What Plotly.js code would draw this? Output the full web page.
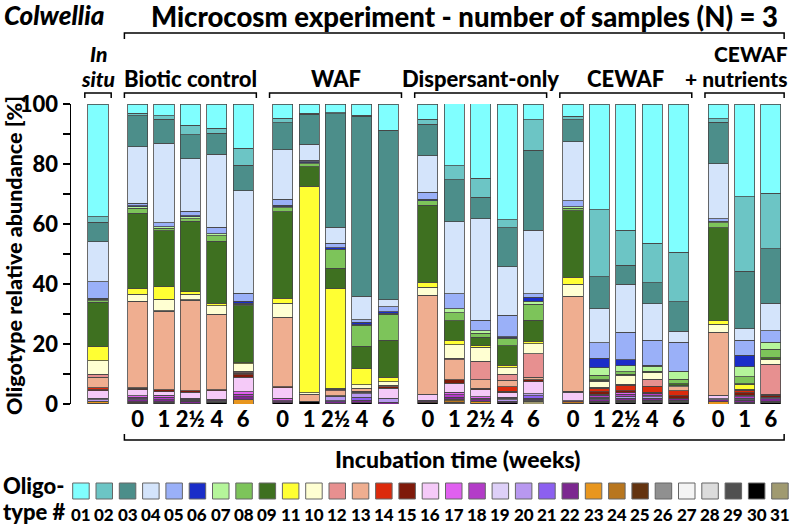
<!DOCTYPE html>
<html><head><meta charset="utf-8">
<script src="https://cdn.plot.ly/plotly-3.0.1.min.js"></script>
<style>html,body{margin:0;padding:0;background:#fff}#chart{width:796px;height:526px}</style>
</head><body><div id="chart"></div>
<script>
// Oligotypes in legend order (top of stack -> bottom)
const oligotypes = ["01","02","03","04","05","06","07","08","09","11","10","12","13","14","15","16","17","18","19","20","21","22","23","24","25","26","27","28","29","30","31"];
const oligoColors = ["#80FFFF","#6CC5C5","#4C8E8A","#D4E4FB","#9AB0F8","#1A2DC8","#B5F59A","#7DC45A","#3E7020","#FFFF33","#FFFFD2","#E79090","#EFAE90","#DC2A0C","#7F1A0A","#F5CAF8","#E060F0","#B33CC8","#DED0F8","#B898F0","#8C60F0","#7C2890","#E8961E","#B8761E","#643410","#909090","#F4F4F4","#DCDCDC","#505050","#000000","#A09A70"];

// Groups and their sample tick labels (weeks)
const groupNames = ["In situ","Biotic control","WAF","Dispersant-only","CEWAF","CEWAF + nutrients"];
const groupWeeks = [[""],["0","1","2½","4","6"],["0","1","2½","4","6"],["0","1","2½","4","6"],["0","1","2½","4","6"],["0","1","6"]];

// Relative abundance [%] per sample, values in oligotype legend order
const inSitu = [37.6,1.8,6.5,13.4,5.5,0.2,0.5,0.6,14.8,4.7,4.5,0.9,3.6,0.7,0.3,2.5,0,0,0.4,0.5,0,0,0.8,0,0,0,0,0,0,0,0.2];
const bc0  = [3.1,0.8,10.3,18.9,0.8,0.3,0.5,1.7,25.1,1.9,2.3,0.2,28.6,0.2,0.6,2.0,0.4,0.5,0,0.4,0,0.6,0,0,0.3,0,0,0,0.2,0.3,0];
const bc1  = [3.9,1.2,8.0,26.5,1.3,0,0.5,0.9,18.6,4.2,3.8,0.2,26.2,0,0.6,1.1,0.8,0.7,0,0,0,0.7,0,0,0,0,0,0,0.4,0.3,0.1];
const bc2h = [7.0,3.3,7.9,17.5,1.6,0.2,0.7,0.8,23.6,0.8,1.8,0.2,30.2,0,0.5,1.9,0.4,0.3,0,0.4,0,0.6,0,0,0,0,0,0,0,0.3,0];
const bc4  = [8.1,1.7,7.0,24.3,2.2,0,0.6,1.8,20.7,0.8,2.9,0.2,25.0,0,0.3,2.8,0,0,0,0.2,0,0.3,0,0,0,0,0,0,0.5,0.6,0];
const bc6  = [14.8,5.6,8.5,34.2,2.6,0.7,0.4,0.5,18.9,0.3,2.5,0.5,0.3,0.5,0.8,4.8,0.9,0.8,0,0,0,0.9,1.5,0,0,0,0,0,0,0,0];
const waf0  = [4.8,1.4,9.1,16.5,1.9,0.5,0.4,1.3,28.9,1.6,4.7,0,23.1,0,0.4,3.5,0.8,0.4,0,0,0,0.3,0,0,0,0,0,0,0,0.4,0];
const waf1  = [3.1,0.3,10.0,5.3,0.5,0.3,0.4,1.0,6.5,68.8,0.6,0,2.2,0,0,0,0,0,0,0,0,0,0,0,0,0,0,0,0,1.0,0];
const waf2h = [2.9,0.3,37.9,5.3,1.5,0.5,0,6.4,6.7,33.2,0.3,0.5,1.7,0,0,0.2,0,0,0,1.5,0.4,0.4,0,0,0,0,0,0,0,0.3,0];
const waf4  = [3.7,0.3,60.1,7.8,0.9,0.8,0.2,7.0,7.5,5.3,1.1,0,1.0,0,0.4,0.5,0,0,0,1.2,1.0,0.8,0,0,0,0,0,0,0,0.4,0];
const waf6  = [8.7,0.2,56.3,2.4,1.6,0.6,0.3,8.6,12.4,1.5,1.2,0,0.5,0,0.4,3.3,0,0,0,1.4,0,0.6,0,0,0,0,0,0,0,0,0];
const dis0  = [5.1,1.7,10.4,12.2,2.4,0.4,0,1.5,25.7,1.7,2.6,0.2,32.9,0,0,1.9,0,0,0,0,0,0.5,0,0,0.4,0,0,0,0,0.4,0];
const dis1  = [20.7,4.6,14.1,24.0,4.9,0,1.3,2.7,6.6,1.4,4.5,0.6,6.6,0,1.1,3.0,0.9,0.8,0,0,0,0.7,0.5,0.5,0,0,0,0,0.6,0,0];
const dis2h = [24.8,6.3,7.3,33.8,3.4,0,0.9,1.3,2.9,0.5,4.7,6.1,2.8,0,0.6,2.2,0.6,0.5,0,0,0,0.5,0.6,0,0,0,0,0,0.3,0,0];
const dis4  = [38.5,2.8,13.0,16.1,7.2,0.3,0.2,2.4,6.5,0.9,2.1,2.0,2.3,1.4,0.5,1.6,0,0.3,0.4,0.6,0,0.5,0,0,0,0,0,0,0,0.4,0];
const dis6  = [5.1,10.2,26.7,21.1,1.2,1.3,1.1,5.3,6.9,0.9,3.3,7.8,0.9,0,0.6,4.1,0,0,0,0.6,0.8,0.5,0,0,0,0,0,0,0.6,0,0.9];
const cew0  = [4.0,1.3,7.3,19.7,1.9,0,0.5,0.9,22.2,2.3,3.9,0,31.7,0,0.4,2.8,0,0,0,0,0,0.3,0,0.5,0,0,0,0,0,0.3,0];
const cew1  = [35.3,22.3,10.7,11.3,5.2,3.1,2.5,1.5,0.3,0.2,2.0,0,0.3,1.2,0.8,0,0.4,0.6,0.3,0.6,0,0.5,0,0,0,0,0,0,0.4,0.5,0];
const cew2h = [42.0,11.7,6.4,16.0,9.2,2.0,2.0,0.7,0.4,0,3.0,0.4,0,1.8,0.6,0,0.6,0.6,0,0.6,0,0.8,0.3,0,0,0,0,0,0.5,0.4,0];
const cew4  = [46.4,13.1,7.0,12.2,8.3,0.4,1.6,0.3,0.3,0,2.2,2.3,0,2.0,0.5,0,0,0.6,0.3,0.5,0,0.7,0,0,0,0,0,0,0.8,0.5,0];
const cew6  = [49.4,16.5,9.8,3.7,9.6,0.3,2.5,1.5,0.6,0,0.4,0,1.2,1.8,1.0,0,0,0,0,0,0,0.5,0,0,0,0,0,0,0.6,0.6,0];
const cen0  = [4.8,1.1,13.9,18.3,0.8,0,0.5,1.8,31.0,1.1,2.6,0,21.1,0,0,1.1,0,0,0.4,0,0,0.6,0.8,0,0,0,0,0,0,0,0];
const cen1  = [30.9,24.8,19.2,3.8,5.1,3.8,3.3,2.3,0.3,1.6,0,0.3,0,0.8,0.8,0,0.5,0.5,0,0.5,0.3,0.6,0,0,0,0,0,0,0.3,0.3,0];
const cen6  = [29.8,18.5,18.1,9.2,3.8,0,2.4,2.8,0.5,0,1.7,9.9,0,0.3,0.7,0,0,0,0,0.6,0,0.8,0,0,0,0,0,0,0.5,0.4,0];

const samples = [inSitu, bc0,bc1,bc2h,bc4,bc6, waf0,waf1,waf2h,waf4,waf6, dis0,dis1,dis2h,dis4,dis6, cew0,cew1,cew2h,cew4,cew6, cen0,cen1,cen6];

// ---- layout geometry ----
const W = 796, H = 526;
const M = {l: 71, r: 6, t: 104, b: 122};
const plotW = W - M.l - M.r, plotH = H - M.t - M.b;
const unitPx = 26.39;
const xMin = -(98 - M.l) / unitPx;
const xMax = xMin + plotW / unitPx;
const FONT = "Lato, 'Open Sans', sans-serif";
const HEAVY = 900;

// x positions of bars (group gap = 1.5 slots)
const xPos = [], xText = [], groupSpan = [];
let p = 0;
groupWeeks.forEach((wk, gi) => {
  if (gi > 0) p += 0.5;
  const start = p;
  wk.forEach(w => { xPos.push(p); xText.push(w); p += 1; });
  groupSpan.push([start, p - 1]);
});

const ux = u => (u - xMin) / (xMax - xMin);
const pxX = px => (px - M.l) / plotW;
const pxY = py => (H - M.b - py) / plotH;

// traces: bottom of stack first (31) up to 01
const traces = [];
for (let k = oligotypes.length - 1; k >= 0; k--) {
  traces.push({
    type: 'bar', name: oligotypes[k], x: xPos,
    y: samples.map(s => s[k] > 0 ? s[k] : null),
    width: 0.76,
    marker: {color: oligoColors[k], line: {color: '#454545', width: 0.8}},
    hoverinfo: 'skip', showlegend: false
  });
}

const shapes = [], annotations = [];
const bracketDown = (u0, u1, py, len) => {
  const x0 = ux(u0), x1 = ux(u1), y = pxY(py), ye = pxY(py + len);
  shapes.push({type: 'path', xref: 'paper', yref: 'paper',
    path: `M ${x0},${ye} L ${x0},${y} L ${x1},${y} L ${x1},${ye}`,
    line: {color: '#000', width: 1.5}});
};
// group brackets
groupSpan.forEach(([a, b]) => bracketDown(a - 0.5, b + 0.5, 93, 5));
// big top bracket over microcosm groups & bottom bracket
const firstMic = groupSpan[1][0] - 0.5, lastMic = groupSpan[groupSpan.length - 1][1] + 0.5;
bracketDown(firstMic, lastMic, 33, 6);
bracketDown(firstMic, lastMic, 440, -6);

const ann = (text, xpx, ypx, size, opts = {}, fontExtra = {}) => annotations.push(Object.assign({
  text, xref: 'paper', yref: 'paper', x: pxX(xpx), y: pxY(ypx), showarrow: false,
  xanchor: 'center', yanchor: 'middle',
  font: Object.assign({family: FONT, size, color: '#000', weight: HEAVY}, fontExtra)
}, opts));
const IT = {style: 'italic'};

ann('Colwellia', 2, 15, 26, {xanchor: 'left'}, IT);
ann('Microcosm experiment - number of samples (N) = 3', 464, 16, 27.5);
ann('Oligotype relative abundance [%]', 14, 256, 21.5, {textangle: -90});
ann('Incubation time (weeks)', 458, 459, 23);

// group labels
const gCenterPx = gi => M.l + ux((groupSpan[gi][0] + groupSpan[gi][1]) / 2) * plotW;
ann('In', gCenterPx(0), 53, 21, {}, IT);
ann('situ', gCenterPx(0), 78, 21, {}, IT);
ann(groupNames[1], gCenterPx(1), 78, 22);
ann(groupNames[2], gCenterPx(2), 78, 22);
ann(groupNames[3], gCenterPx(3), 78, 22);
ann(groupNames[4], gCenterPx(4), 78, 22);
ann('CEWAF', 790, 53, 21, {xanchor: 'right'});
ann('+ nutrients', 790, 78, 21, {xanchor: 'right'});

// custom legend
ann('Oligo-', 1, 485, 22, {xanchor: 'left'});
ann('type #', 1, 512, 22, {xanchor: 'left'});
oligotypes.forEach((o, i) => {
  const x0 = 72.7 + 23.3 * i, x1 = x0 + 16.5;
  shapes.push({type: 'rect', xref: 'paper', yref: 'paper',
    x0: pxX(x0), x1: pxX(x1), y0: pxY(499), y1: pxY(483),
    fillcolor: oligoColors[i], line: {color: '#666', width: 1}});
  ann(o, x0 + 8.25, 514, 17);
});

const tf = {family: FONT, size: 22, color: '#000', weight: HEAVY};
const layout = {
  width: W, height: H, margin: M, paper_bgcolor: '#fff', plot_bgcolor: '#fff',
  barmode: 'stack', showlegend: false,
  xaxis: {range: [xMin, xMax], tickvals: xPos, ticktext: xText, showgrid: false,
    zeroline: false, showline: false, ticks: '', fixedrange: true, tickfont: tf},
  yaxis: {range: [0, 100], tickvals: [0, 20, 40, 60, 80, 100], showgrid: false, zeroline: false,
    showline: true, linecolor: '#000', linewidth: 1.5, ticks: 'outside', ticklen: 7,
    tickwidth: 1.5, tickcolor: '#000',
    minor: {tickvals: [10, 30, 50, 70, 90], ticks: 'outside', ticklen: 7, tickwidth: 1.5, tickcolor: '#000'},
    tickfont: tf},
  shapes, annotations
};

Plotly.newPlot('chart', traces, layout, {staticPlot: true, displayModeBar: false});
</script>
</body></html>
